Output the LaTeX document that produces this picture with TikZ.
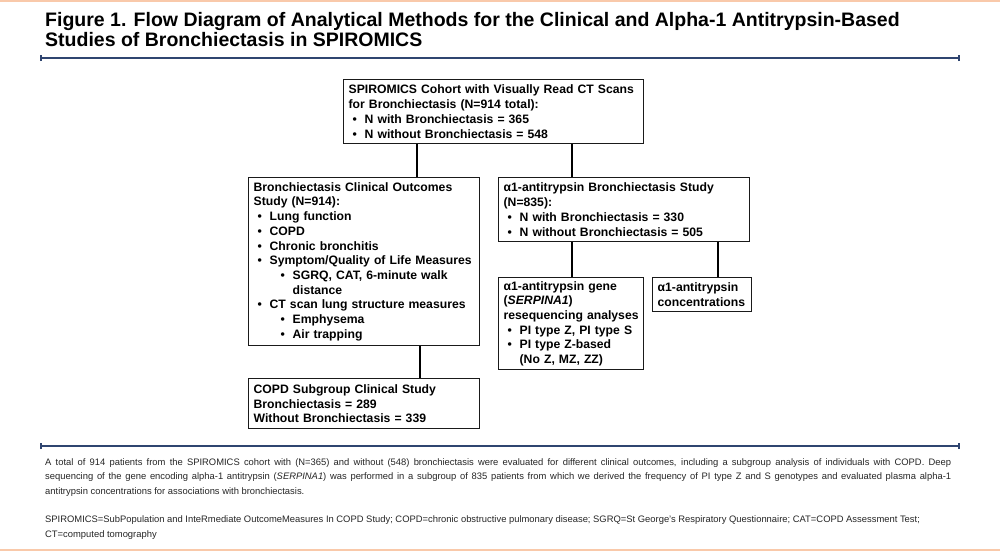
\documentclass[tikz,border=0pt]{standalone}
\usepackage{fontspec}
\setmainfont{Liberation Sans}
\hyphenpenalty=10000
\exhyphenpenalty=10000
\definecolor{peach}{HTML}{F9C9AA}
\definecolor{navy}{HTML}{2F4570}
\definecolor{boxline}{HTML}{1A1A1A}
\newcommand\bul{\hspace*{4pt}\makebox[12pt][l]{•}}
\newcommand\subbul{\hspace*{27pt}\makebox[12pt][l]{•}}
\tikzset{
  flowbox/.style={draw=boxline, line width=1.3pt, fill=white, anchor=north west,
    inner xsep=5pt, inner ysep=0pt, align=left, font=\fontsize{12.2}{14.7}\selectfont\bfseries},
  conn/.style={line width=2.6pt, black},
  rule/.style={navy, line width=1.5pt},
  tick/.style={navy, line width=1.2pt}
}
\begin{document}
\begin{tikzpicture}[x=1pt,y=-1pt]
\useasboundingbox (0,0) rectangle (1000,551);
\fill[white] (0,0) rectangle (1000,551);
\fill[peach] (0,0) rectangle (1000,1.8);
\fill[peach] (0,549) rectangle (1000,551);
% title
\node[anchor=base west, inner sep=0pt, align=left, font=\fontsize{19.5}{20}\selectfont\bfseries] (title) at (45,47)
  {Figure 1. Flow Diagram of Analytical Methods for the Clinical and Alpha-1 Antitrypsin-Based\\Studies of Bronchiectasis in SPIROMICS};
\coordinate (r1a) at (41,58);
\coordinate (r1b) at (959,58);
\draw[rule] (r1a) -- (r1b);
\draw[tick] ([yshift=-3pt]r1a) -- ([yshift=3pt]r1a);
\draw[tick] ([yshift=-3pt]r1b) -- ([yshift=3pt]r1b);
% boxes
\node[flowbox, text width=290pt, minimum height=64pt] (top) at (343,79)
  {\mbox{SPIROMICS Cohort with Visually Read CT Scans}\\for Bronchiectasis (N=914 total):\\\bul N with Bronchiectasis = 365\\\bul N without Bronchiectasis = 548};
\node[flowbox, text width=221pt, minimum height=168pt] (left) at (248,177)
  {Bronchiectasis Clinical Outcomes\\Study (N=914):\\\bul Lung function\\\bul COPD\\\bul Chronic bronchitis\\\mbox{\bul Symptom/Quality of Life Measures}\\\mbox{\subbul SGRQ, CAT, 6-minute walk}\\\hspace*{39pt}distance\\\mbox{\bul CT scan lung structure measures}\\\subbul Emphysema\\\subbul Air trapping};
\node[flowbox, text width=241pt, minimum height=64pt] (right) at (498,177)
  {\mbox{α1-antitrypsin Bronchiectasis Study}\\(N=835):\\\bul N with Bronchiectasis = 330\\\bul N without Bronchiectasis = 505};
\node[flowbox, text width=135pt, minimum height=92pt] (gene) at (498,277)
  {α1-antitrypsin gene\\(\textit{SERPINA1})\\\mbox{resequencing analyses}\\\mbox{\bul PI type Z, PI type S}\\\bul PI type Z-based\\\hspace*{16pt}(No Z, MZ, ZZ)};
\node[flowbox, text width=89pt, minimum height=34pt] (conc) at (652,277)
  {α1-antitrypsin\\concentrations};
\node[flowbox, text width=221pt, minimum height=50pt] (copd) at (248,378)
  {COPD Subgroup Clinical Study\\Bronchiectasis = 289\\Without Bronchiectasis = 339};
% connectors
\coordinate (xa) at (417,0);
\coordinate (xb) at (572,0);
\coordinate (xc) at (420,0);
\coordinate (xd) at (718,0);
\draw[conn] (top.south -| xa) -- (left.north -| xa);
\draw[conn] (top.south -| xb) -- (right.north -| xb);
\draw[conn] (left.south -| xc) -- (copd.north -| xc);
\draw[conn] (right.south -| xb) -- (gene.north -| xb);
\draw[conn] (right.south -| xd) -- (conc.north -| xd);
% footer
\coordinate (r2a) at (41,446);
\coordinate (r2b) at (959,446);
\draw[rule] (r2a) -- (r2b);
\draw[tick] ([yshift=-3pt]r2a) -- ([yshift=3pt]r2a);
\draw[tick] ([yshift=-3pt]r2b) -- ([yshift=3pt]r2b);
\node[anchor=base west, inner sep=0pt, align=left, text=black!85, font=\fontsize{9.4}{14.3}\selectfont] (foot) at (45,537)
  {\makebox[906pt][s]{A total of 914 patients from the SPIROMICS cohort with (N=365) and without (548) bronchiectasis were evaluated for different clinical outcomes, including a subgroup analysis of individuals with COPD. Deep}\\
  \makebox[906pt][s]{sequencing of the gene encoding alpha-1 antitrypsin (\textit{SERPINA1}) was performed in a subgroup of 835 patients from which we derived the frequency of PI type Z and S genotypes and evaluated plasma alpha-1}\\
  antitrypsin concentrations for associations with bronchiectasis.\\[14.3pt]
  SPIROMICS=SubPopulation and InteRmediate OutcomeMeasures In COPD Study; COPD=chronic obstructive pulmonary disease; SGRQ=St George’s Respiratory Questionnaire; CAT=COPD Assessment Test;\\
  CT=computed tomography};
\end{tikzpicture}
\end{document}
